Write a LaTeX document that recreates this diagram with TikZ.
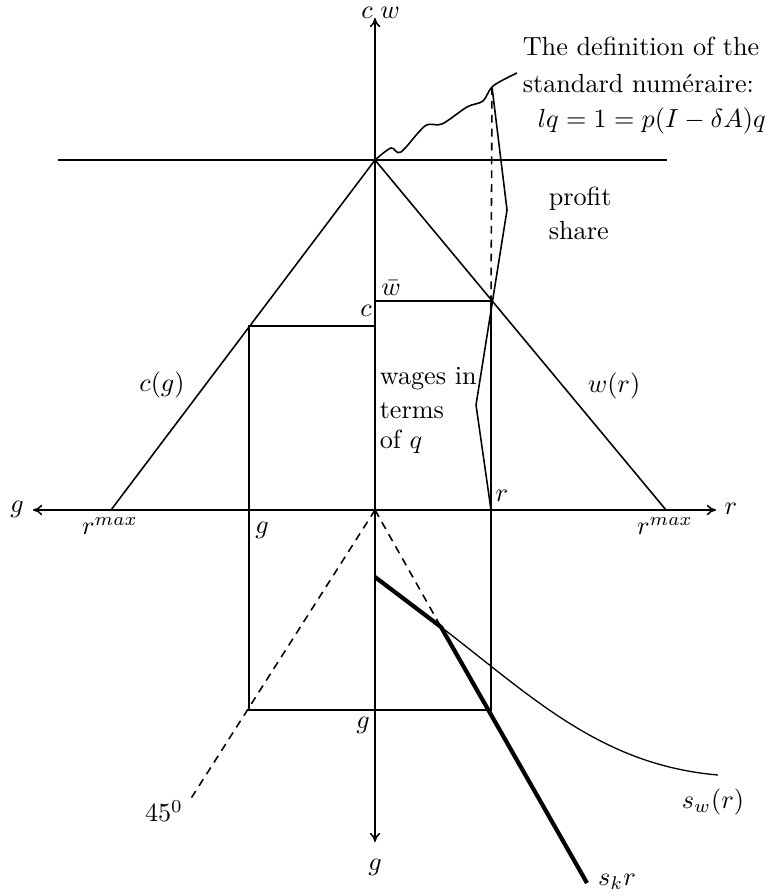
\documentclass[tikz,border=0pt]{standalone}
\usetikzlibrary{arrows.meta}
\begin{document}
\begin{tikzpicture}[x=0.3817pt,y=-0.3817pt, line width=0.6pt,
  axis/.style={{To[length=3.5pt,width=4pt]}-{To[length=3.5pt,width=4pt]}},
  dsh/.style={dashed, dash pattern=on 3pt off 2.3pt},
  thickl/.style={line width=1.6pt},
  thinl/.style={line width=0.5pt},
  lbl/.style={inner sep=0pt}]
\useasboundingbox (0,0) rectangle (768,896);
% key points
\coordinate (O) at (375,510);
\coordinate (A) at (375,160);
\coordinate (Ytop) at (375,18);
\coordinate (Ybot) at (375,842);
\coordinate (Xl) at (33,510);
\coordinate (Xr) at (716,510);
\coordinate (Hl) at (58,160);
\coordinate (Hr) at (667,160);
\coordinate (Rl) at (111,510);
\coordinate (Rr) at (666,510);
\coordinate (W) at (491,301);
\coordinate (Wax) at (375,301);
\coordinate (C) at (249,326);
\coordinate (Cax) at (375,326);
\coordinate (G) at (249,710);
\coordinate (Gr) at (491,710);
\coordinate (Rax) at (491,510);
\coordinate (D) at (492,87);
\coordinate (F) at (190,800);
\coordinate (K) at (441,627);
\coordinate (S0) at (375,577);
\coordinate (Sk) at (587,883);
\coordinate (Sw) at (718,775);
\coordinate (Z1) at (507,210);
\coordinate (Z2) at (476,405);

% axes
\draw[axis] (Xl) -- (Xr);
\draw[axis] (Ybot) -- (Ytop);
\draw (Hl) -- (Hr);
% wage and consumption frontiers
\draw (Rl) -- (A) -- (Rr);
% rectangles
\draw (Wax) -- (W) -- (Gr) -- (G) -- (C) -- (Cax);
\draw[dsh] (D) -- (W);
% zigzag
\draw (D) -- (Z1) -- (Z2) -- (Rax);
% wavy curve
\draw plot[smooth, tension=0.55] coordinates {(375,160) (391,148) (401,152) (425,126) (442,124) (467,107) (483,101) (493,86) (517,73)};
% dashed lines from origin
\draw[dsh] (O) -- (F);
\draw[dsh] (O) -- (K);
% thick s_k line
\draw[thickl] (S0) -- (K) -- (Sk);
% s_w curve
\draw[thinl] (K) .. controls (530,695) and (600,765) .. (Sw);

% labels
\node[lbl] (lc) at (367,13) {$c$};
\node[lbl] (lw) at (390,13) {$w$};
\node[lbl, anchor=base west] (t1) at (522,56) {The definition of the};
\node[lbl, anchor=base west] (t2) at (522,93) {standard numéraire:};
\node[lbl, anchor=base west] (t3) at (537,128) {$lq=1=p(I-\delta A)q$};
\node[lbl, anchor=base west] (p1) at (548,206) {profit};
\node[lbl, anchor=base west] (p2) at (548,240) {share};
\node[lbl] (wb) at (391,288) {$\bar w$};
\node[lbl] (lc2) at (366,311) {$c$};
\node[lbl] (cg) at (162,385) {$c(g)$};
\node[lbl] (wr) at (614,386) {$w(r)$};
\node[lbl, anchor=base west] (wa) at (379,384) {wages in};
\node[lbl, anchor=base west] (wt) at (379,418) {terms};
\node[lbl, anchor=base west] (wq) at (379,448) {of $q$};
\node[lbl] (lr) at (502,496) {$r$};
\node[lbl] (lgl) at (17,509) {$g$};
\node[lbl] (lrr) at (731,509) {$r$};
\node[lbl] (rml) at (110,526) {$r^{max}$};
\node[lbl] (rmr) at (665,526) {$r^{max}$};
\node[lbl] (lg1) at (262,530) {$g$};
\node[lbl] (lg2) at (363,725) {$g$};
\node[lbl] (l45) at (164,811) {$45^0$};
\node[lbl] (lg3) at (375,867) {$g$};
\node[lbl] (lsw) at (713,802) {$s_w(r)$};
\node[lbl] (lsk) at (617,882) {$s_kr$};
\end{tikzpicture}
\end{document}
